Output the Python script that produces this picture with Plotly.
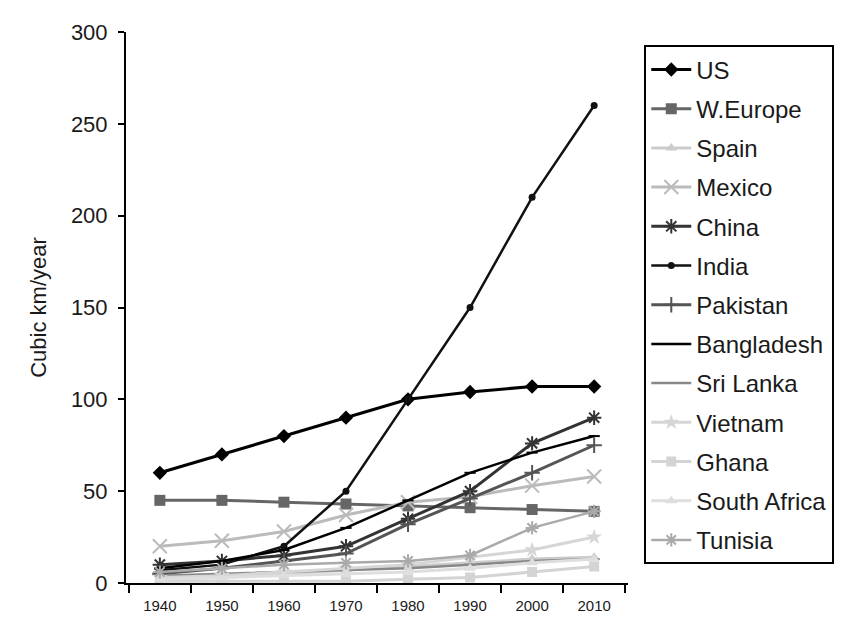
import plotly.graph_objects as go

years = ["1940", "1950", "1960", "1970", "1980", "1990", "2000", "2010"]

us = [60, 70, 80, 90, 100, 104, 107, 107]
w_europe = [45, 45, 44, 43, 42, 41, 40, 39]
spain = [2, 3, 5, 7, 9, 11, 13, 14]
mexico = [20, 23, 28, 37, 44, 47, 53, 58]
china = [10, 12, 15, 20, 35, 50, 76, 90]
india = [7, 10, 20, 50, 100, 150, 210, 260]
pakistan = [5, 8, 12, 16, 32, 46, 60, 75]
bangladesh = [8, 12, 18, 30, 45, 60, 71, 80]
sri_lanka = [4, 5, 6, 7, 8, 10, 12, 13]
vietnam = [3, 4, 6, 8, 10, 14, 18, 25]
ghana = [1, 1, 1, 1, 2, 3, 6, 9]
south_africa = [2, 3, 4, 5, 6, 8, 11, 13]
tunisia = [6, 8, 10, 11, 12, 15, 30, 39]

series = [
    ("US", us, "#000000", "diamond", 11, 3),
    ("W.Europe", w_europe, "#666666", "square", 11, 3),
    ("Spain", spain, "#cccccc", "triangle-up", 10, 3),
    ("Mexico", mexico, "#bbbbbb", "x-thin-open", 14, 3),
    ("China", china, "#333333", "asterisk-open", 12, 3),
    ("India", india, "#111111", "circle", 7, 2.5),
    ("Pakistan", pakistan, "#555555", "cross-thin-open", 11, 3),
    ("Bangladesh", bangladesh, "#000000", "line-ew-open", 8, 2.5),
    ("Sri Lanka", sri_lanka, "#888888", "line-ew-open", 8, 2.5),
    ("Vietnam", vietnam, "#d6d6d6", "star", 12, 3),
    ("Ghana", ghana, "#d4d4d4", "square", 10, 3),
    ("South Africa", south_africa, "#dedede", "triangle-up", 10, 3),
    ("Tunisia", tunisia, "#aaaaaa", "asterisk-open", 11, 2.5),
]

fig = go.Figure()
for name, vals, color, sym, size, lw in series:
    open_sym = sym.endswith("-open")
    fig.add_trace(go.Scatter(
        x=years, y=vals, name=name, mode="lines+markers",
        legendgroup=name,
        line=dict(color=color, width=lw),
        marker=dict(symbol=sym, size=size, color=color,
                    line=dict(color=color, width=2 if open_sym else 0)),
    ))

fig.update_layout(
    width=845, height=623,
    margin=dict(l=118, r=225, t=22, b=48),
    paper_bgcolor="white", plot_bgcolor="white",
    font=dict(family="Liberation Sans, Arial, sans-serif", color="#1a1a1a"),
    showlegend=True,
    legend=dict(
        xref="container", yref="container",
        x=0.753, y=0.94, xanchor="left", yanchor="top",
        bordercolor="#000000", borderwidth=2, bgcolor="white",
        font=dict(size=24, color="#1a1a1a"),
        traceorder="grouped", tracegroupgap=5,
        itemwidth=40, maxheight=1.0,
    ),
)
fig.update_xaxes(
    type="category", tickson="boundaries",
    showline=True, linecolor="#000000", linewidth=2,
    ticks="outside", ticklen=8, tickwidth=2, tickcolor="#000000",
    showgrid=False, zeroline=False,
    ticklabelstandoff=8,
    tickfont=dict(size=15, color="#1a1a1a"),
)
fig.update_yaxes(
    range=[0, 300], dtick=50,
    showline=True, linecolor="#000000", linewidth=2,
    ticks="outside", ticklen=6, tickwidth=2, tickcolor="#000000",
    showgrid=False, zeroline=False,
    ticklabelstandoff=6,
    tickfont=dict(size=22, color="#1a1a1a"),
    title=dict(text="Cubic km/year", font=dict(size=22, color="#1a1a1a"), standoff=18),
)

fig.write_html("out.html")
